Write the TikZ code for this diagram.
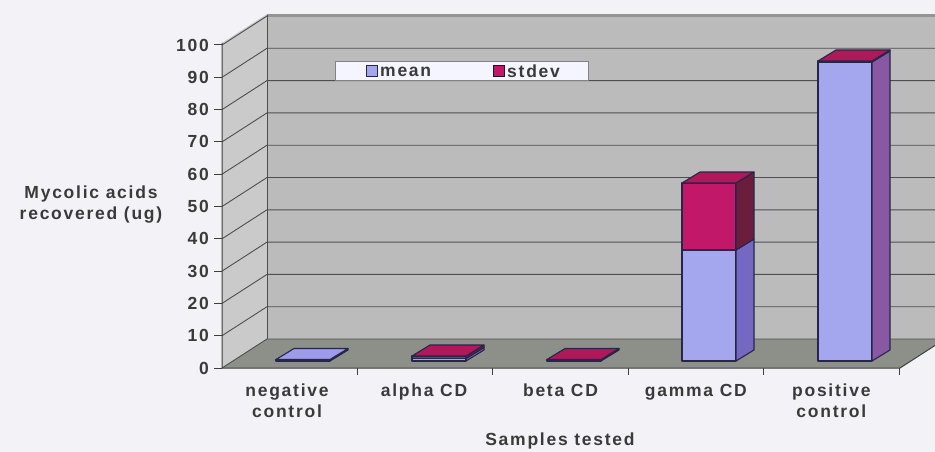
\documentclass[tikz,border=0pt]{standalone}
\usepackage{fontspec}
\setmainfont[LetterSpace=10]{Liberation Sans}
\definecolor{bg}{HTML}{F3F2F7}
\definecolor{leftwall}{HTML}{CACACA}
\definecolor{backwall}{HTML}{BBBBBB}
\definecolor{floorc}{HTML}{8D9089}
\definecolor{gridc}{HTML}{4E4E4E}
\definecolor{txt}{HTML}{3A3A3A}
\definecolor{bfront}{HTML}{A4A6EE}
\definecolor{bside}{HTML}{7468C0}
\definecolor{btop}{HTML}{9C9CEA}
\definecolor{rfront}{HTML}{C2186A}
\definecolor{rside}{HTML}{6A1E3C}
\definecolor{rtop}{HTML}{B0185A}
\definecolor{outl}{HTML}{26264A}
\tikzset{
  lbl/.style={font=\bfseries\fontsize{17.5}{20}\selectfont, text=txt, inner sep=0pt},
  ylbl/.style={lbl, anchor=east},
  gridln/.style={draw=gridc, line width=0.9pt},
  axisln/.style={draw=gridc!80!black, line width=1pt},
  face/.style={draw=outl, line width=1.1pt, line join=round},
}
% front box: xl xr yb yt frontcolor sidecolor topcolor drawtop(1/0)
\newcommand\mybox[8]{%
  \filldraw[face, fill=#5] (#1,#3) rectangle (#2,#4);
  \filldraw[face, fill=#6] (#2,#3) -- (#2+18,#3-11) -- (#2+18,#4-11) -- (#2,#4) -- cycle;
  \ifnum#8=1
    \filldraw[face, fill=#7] (#1,#4) -- (#2,#4) -- (#2+18,#4-11) -- (#1+18,#4-11) -- cycle;
  \fi
}
\begin{document}
\begin{tikzpicture}[x=1pt, y=-1pt]
\useasboundingbox (0,0) rectangle (935,452);
\fill[bg] (0,0) rectangle (935,452);
\begin{scope}
\clip (0,0) rectangle (935,452);
% walls
\fill[leftwall] (222,43) -- (267,14) -- (267,339) -- (222,368) -- cycle;
\fill[backwall] (267,14) rectangle (945,339);
\fill[floorc] (222,368) -- (267,339) -- (945,339) -- (900,368) -- cycle;
% gridlines
\foreach \k in {0,...,10} {
  \pgfmathsetmacro\yy{368-32.3*\k}
  \draw[gridln] (222,\yy) -- (267,\yy-29) -- (945,\yy-29);
}
\draw[gridln] (267,14) -- (267,339);
\draw[draw=gridc!60, line width=0.6pt] (267,14) -- (945,14);
% axes
\draw[axisln] (222,43) -- (222,368) -- (900,368) -- (945,339);
\foreach \k in {0,...,10} {
  \pgfmathsetmacro\yy{368-32.3*\k}
  \draw[axisln] (214,\yy) -- (222,\yy);
}
\foreach \xx in {357,492,628,763,899} {
  \draw[axisln] (\xx,368) -- (\xx,375);
}
\end{scope}
% legend
\node[draw=gridc!70, fill=white!96!blue, minimum width=253pt, minimum height=19pt, inner sep=0pt, anchor=north west] (legend) at (335,61) {};
\filldraw[draw=outl, line width=0.9pt, fill=bfront] (366,65) rectangle (377,76);
\node[lbl, anchor=west] (lmean) at (380,71.5) {mean};
\filldraw[draw=outl!60!black, line width=0.9pt, fill=rfront] (493,65) rectangle (504,76);
\node[lbl, anchor=west] (lstdev) at (507,71.5) {stdev};
% bars
% negative control
\mybox{276}{330}{361}{359.5}{bfront}{bside}{btop}{1}
% alpha CD
\mybox{412}{466}{361}{358.5}{bfront}{bside}{btop}{0}
\mybox{412}{466}{358.5}{356}{rfront}{rside}{rtop}{1}
% beta CD
\mybox{547}{601}{361}{359.5}{rfront}{rside}{rtop}{1}
% gamma CD
\mybox{682}{736}{361}{250}{bfront}{bside}{btop}{0}
\mybox{682}{736}{250}{183}{rfront}{rside}{rtop}{1}
% positive control
\mybox{818}{872}{361}{62}{bfront}{bside!85!red}{btop}{0}
\mybox{818}{872}{62}{61}{rfront}{rside}{rtop}{1}
% y labels
\foreach \k/\t in {0/0,1/10,2/20,3/30,4/40,5/50,6/60,7/70,8/80,9/90,10/100} {
  \pgfmathsetmacro\yy{368-32.3*\k}
  \node[ylbl] (y\k) at (209,\yy) {\t};
}
\node[lbl, align=center] (ytitle) at (91,205) {Mycolic acids\\[1pt]recovered (ug)};
% category labels
\node[lbl, align=center, anchor=north] (c1) at (287,384) {negative\\[1pt]control};
\node[lbl, anchor=north] (c2) at (424,384) {alpha CD};
\node[lbl, anchor=north] (c3) at (560.5,384) {beta CD};
\node[lbl, anchor=north] (c4) at (695.9,384) {gamma CD};
\node[lbl, align=center, anchor=north] (c5) at (831.3,384) {positive\\[1pt]control};
\node[lbl] (xtitle) at (560,441) {Samples tested};
\end{tikzpicture}
\end{document}
